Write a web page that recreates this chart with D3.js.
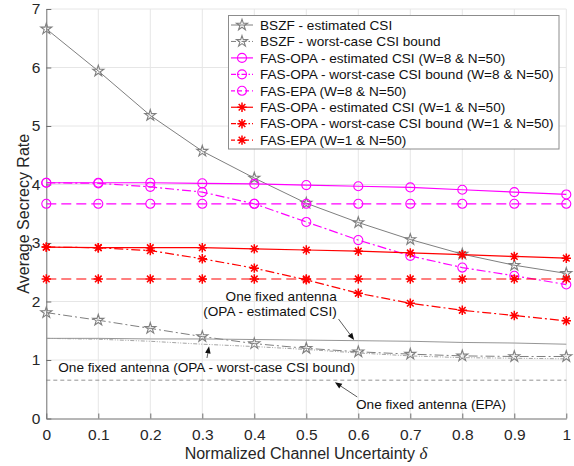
<!DOCTYPE html>
<html>
<head>
<meta charset="utf-8">
<script src="https://cdn.jsdelivr.net/npm/d3@7"></script>
<style>
  html, body { margin: 0; padding: 0; background: #fff; }
  svg { display: block; font-family: "Liberation Sans", Arial, Helvetica, sans-serif; }
</style>
</head>
<body>
<svg id="chart" width="574" height="466"></svg>
<script>
// Normalized channel uncertainty values (x axis)
const delta = [0, 0.1, 0.2, 0.3, 0.4, 0.5, 0.6, 0.7, 0.8, 0.9, 1.0];

// Average secrecy rate for each scheme
const bszfEst      = [6.66, 5.94, 5.18, 4.57, 4.11, 3.68, 3.35, 3.06, 2.81, 2.62, 2.48];
const bszfWorst    = [1.81, 1.68, 1.54, 1.40, 1.28, 1.20, 1.14, 1.10, 1.07, 1.06, 1.06];
const opaEstW8     = [4.03, 4.03, 4.03, 4.02, 4.01, 3.99, 3.97, 3.95, 3.91, 3.87, 3.83];
const opaWorstW8   = [4.03, 4.02, 3.96, 3.87, 3.67, 3.36, 3.05, 2.78, 2.58, 2.44, 2.29];
const epaW8        = [3.67, 3.67, 3.67, 3.67, 3.67, 3.67, 3.67, 3.67, 3.67, 3.67, 3.67];
const opaEstW1     = [2.93, 2.92, 2.92, 2.92, 2.90, 2.88, 2.86, 2.83, 2.80, 2.77, 2.74];
const opaWorstW1   = [2.93, 2.92, 2.87, 2.73, 2.57, 2.37, 2.14, 1.97, 1.85, 1.76, 1.67];
const epaW1        = [2.385, 2.385, 2.385, 2.385, 2.385, 2.385, 2.385, 2.385, 2.385, 2.385, 2.385];
const fixedOpaEst  = [1.37, 1.37, 1.36, 1.36, 1.35, 1.34, 1.33, 1.32, 1.30, 1.29, 1.27];
const fixedOpaWorst= [1.37, 1.355, 1.32, 1.27, 1.23, 1.18, 1.12, 1.07, 1.04, 1.03, 1.02];
const fixedEpa     = [0.655, 0.655, 0.655, 0.655, 0.655, 0.655, 0.655, 0.655, 0.655, 0.655, 0.655];

// Tick labels
const xTicks = [0, 0.1, 0.2, 0.3, 0.4, 0.5, 0.6, 0.7, 0.8, 0.9, 1];
const yTicks = [0, 1, 2, 3, 4, 5, 6, 7];

const legendLabels = [
  "BSZF - estimated CSI",
  "BSZF - worst-case CSI bound",
  "FAS-OPA - estimated CSI (W=8 & N=50)",
  "FAS-OPA - worst-case CSI bound (W=8 & N=50)",
  "FAS-EPA (W=8 & N=50)",
  "FAS-OPA - estimated CSI (W=1 & N=50)",
  "FAS-OPA - worst-case CSI bound (W=1 & N=50)",
  "FAS-EPA (W=1 & N=50)"
];

const GRAY = "#7f7f7f", MAG = "#ff00ff", RED = "#ff0000";
const DASH = "10,5", DASHDOT = "9,3,2,3";

const series = [
  { values: bszfEst,    color: GRAY, dash: null,    marker: "star",     width: 1,   legend: 0 },
  { values: bszfWorst,  color: GRAY, dash: DASHDOT, marker: "star",     width: 1,   legend: 1 },
  { values: opaEstW8,   color: MAG,  dash: null,    marker: "circle",   width: 1.2, legend: 2 },
  { values: opaWorstW8, color: MAG,  dash: DASHDOT, marker: "circle",   width: 1.2, legend: 3 },
  { values: epaW8,      color: MAG,  dash: DASH,    marker: "circle",   width: 1.2, legend: 4 },
  { values: opaEstW1,   color: RED,  dash: null,    marker: "asterisk", width: 1.2, legend: 5 },
  { values: opaWorstW1, color: RED,  dash: DASHDOT, marker: "asterisk", width: 1.2, legend: 6 },
  { values: epaW1,      color: RED,  dash: DASH,    marker: "asterisk", width: 1.2, legend: 7 },
  { values: fixedOpaEst,   color: "#8a8a8a", dash: null,          marker: null, width: 0.9 },
  { values: fixedOpaWorst, color: "#999999", dash: "4,1.5,1,1.5,1,1.5", marker: null, width: 0.9 },
  { values: fixedEpa,      color: "#777777", dash: "4,3",          marker: null, width: 0.8 }
];

const svg = d3.select("#chart");
const x = d3.scaleLinear().domain([0, 1]).range([46.3, 566.3]);
const y = d3.scaleLinear().domain([0, 7]).range([418.5, 9]);

// Grid
const grid = svg.append("g").attr("stroke", "#e6e6e6").attr("stroke-width", 1);
grid.selectAll("line.gx").data(xTicks.slice(1)).join("line")
  .attr("x1", d => x(d)).attr("x2", d => x(d)).attr("y1", y(0)).attr("y2", y(7));
grid.selectAll("line.gy").data(yTicks.slice(1)).join("line")
  .attr("x1", x(0)).attr("x2", x(1)).attr("y1", d => y(d)).attr("y2", d => y(d));

// Axes (ticks point inward)
const xAxis = svg.append("g").attr("transform", `translate(0,${y(0)})`)
  .call(d3.axisBottom(x).tickValues(xTicks).tickSizeInner(-5).tickSizeOuter(0)
        .tickPadding(10).tickFormat(d => d === 0 ? "0" : d === 1 ? "1" : d3.format(".1f")(d)));
const yAxis = svg.append("g").attr("transform", `translate(${x(0)},0)`)
  .call(d3.axisLeft(y).tickValues(yTicks).tickSizeInner(-5).tickSizeOuter(0)
        .tickPadding(6).tickFormat(d3.format("d")));
[xAxis, yAxis].forEach(a => {
  a.select(".domain").attr("stroke", "#6e6e6e").attr("stroke-width", 1);
  a.selectAll(".tick line").attr("stroke", "#6e6e6e");
  a.selectAll(".tick text").attr("fill", "#262626").attr("font-size", 15.5)
    .attr("font-family", "'Liberation Sans', Arial, sans-serif");
});

// Axis titles
const xt = svg.append("text").attr("x", 306).attr("y", 458.5).attr("text-anchor", "middle")
  .attr("font-size", 16).attr("fill", "#262626");
xt.append("tspan").text("Normalized Channel Uncertainty ");
xt.append("tspan").attr("font-family", "'Liberation Serif', 'DejaVu Serif', serif")
  .attr("font-style", "italic").attr("font-size", 17).text("δ");

svg.append("text").attr("transform", `translate(29,${(y(0) + y(7)) / 2}) rotate(-90)`)
  .attr("text-anchor", "middle").attr("font-size", 16).attr("fill", "#262626")
  .text("Average Secrecy Rate");

// Marker shapes
const starPath = d3.symbol(d3.symbolStar, 38)();
const circlePath = d3.symbol(d3.symbolCircle, 64)();
const asteriskPath = (() => {
  const r = 4.7, p = d3.path();
  for (let k = 0; k < 4; k++) {
    const a = k * Math.PI / 4;
    p.moveTo(-r * Math.cos(a), -r * Math.sin(a));
    p.lineTo(r * Math.cos(a), r * Math.sin(a));
  }
  return p.toString();
})();
function markerPath(m) {
  return m === "star" ? starPath : m === "circle" ? circlePath : asteriskPath;
}

const line = d3.line().x((d, i) => x(delta[i])).y(d => y(d));

// Series
const plot = svg.append("g");
series.forEach(s => {
  plot.append("path").datum(s.values).attr("d", line)
    .attr("fill", "none").attr("stroke", s.color).attr("stroke-width", s.width)
    .attr("stroke-dasharray", s.dash);
  if (s.marker) {
    plot.append("g").selectAll("path").data(s.values).join("path")
      .attr("transform", (d, i) => `translate(${x(delta[i])},${y(d)})`)
      .attr("d", markerPath(s.marker))
      .attr("fill", "none").attr("stroke", s.color)
      .attr("stroke-width", s.marker === "asterisk" ? 1.5 : 1.1);
  }
});

// Annotations with arrows (positions in data units)
const annoFont = 13.6;
function arrow(x0, y0, x1, y1) {
  const X0 = x(x0), Y0 = y(y0), X1 = x(x1), Y1 = y(y1);
  const ang = Math.atan2(Y1 - Y0, X1 - X0), L = 7, W = 2.8;
  const bx = X1 - L * Math.cos(ang), by = Y1 - L * Math.sin(ang);
  svg.append("line").attr("x1", X0).attr("y1", Y0).attr("x2", bx).attr("y2", by)
    .attr("stroke", "#333").attr("stroke-width", 0.8);
  svg.append("path")
    .attr("d", `M${X1},${Y1}L${bx + W * Math.sin(ang)},${by - W * Math.cos(ang)}L${bx - W * Math.sin(ang)},${by + W * Math.cos(ang)}Z`)
    .attr("fill", "#111");
}
function note(tx, ty, anchor, str) {
  svg.append("text").attr("x", x(tx)).attr("y", y(ty)).attr("text-anchor", anchor)
    .attr("font-size", annoFont).attr("fill", "#111").text(str);
}
note(0.5585, 2.01, "end", "One fixed antenna");
note(0.5585, 1.75, "end", "(OPA - estimated CSI)");
arrow(0.562, 1.70, 0.592, 1.342);
note(0.023, 0.795, "start", "One fixed antenna (OPA - worst-case CSI bound)");
arrow(0.309, 1.034, 0.313, 1.235);
note(0.5956, 0.157, "start", "One fixed antenna (EPA)");
arrow(0.598, 0.368, 0.555, 0.62);

// Legend
const lg = svg.append("g");
lg.append("rect").attr("x", 228.5).attr("y", 15.5).attr("width", 330.5).attr("height", 133.5)
  .attr("fill", "#fff").attr("stroke", "#8c8c8c").attr("stroke-width", 1);
series.filter(s => s.legend !== undefined).forEach(s => {
  const cy = 25 + s.legend * 16.45;
  lg.append("line").attr("x1", 231).attr("x2", 253).attr("y1", cy).attr("y2", cy)
    .attr("stroke", s.color).attr("stroke-width", s.width)
    .attr("stroke-dasharray", s.dash ? (s.dash === DASH ? "4,3" : "5,2,1.5,2") : null);
  lg.append("path").attr("transform", `translate(242,${cy})`).attr("d", markerPath(s.marker))
    .attr("fill", "none").attr("stroke", s.color)
    .attr("stroke-width", s.marker === "asterisk" ? 1.5 : 1.1);
  lg.append("text").attr("x", 260).attr("y", cy).attr("dy", "0.35em")
    .attr("font-size", annoFont).attr("fill", "#111").text(legendLabels[s.legend]);
});
</script>
</body>
</html>
